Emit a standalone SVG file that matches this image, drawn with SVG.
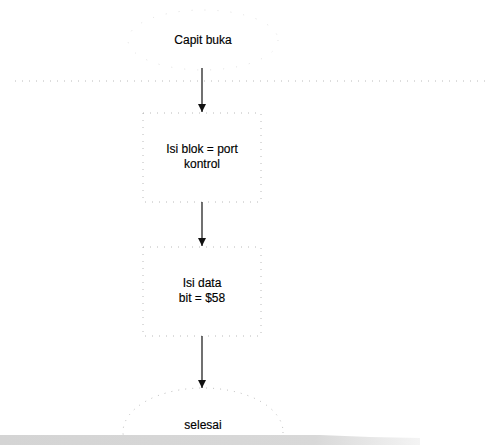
<svg xmlns="http://www.w3.org/2000/svg" width="502" height="445" viewBox="0 0 502 445">
<defs>
<style>
.shape{fill:none;stroke:#a8a8a8;stroke-width:0.8;stroke-dasharray:1 6}
.faint{fill:none;stroke:#d2d2d2;stroke-width:0.7;stroke-dasharray:1 12}
.conn{stroke:#111;stroke-width:1.2;fill:none;marker-end:url(#ah)}
text{font-family:"Liberation Sans",Arial,sans-serif;font-size:12px;fill:#000;stroke:#000;stroke-width:0.15;text-anchor:middle}
</style>
<marker id="ah" viewBox="0 0 10 10" refX="10" refY="5" markerWidth="8" markerHeight="8" markerUnits="userSpaceOnUse" orient="auto">
<path d="M0,0 L10,5 L0,10 z" fill="#111"/>
</marker>
<linearGradient id="band" x1="0" x2="1" y1="0" y2="0">
<stop offset="0" stop-color="#d4d4d4"/>
<stop offset="0.75" stop-color="#d8d8d8"/>
<stop offset="1" stop-color="#f4f4f4"/>
</linearGradient>
</defs>
<rect width="502" height="445" fill="#fff"/>
<line class="shape" x1="15" y1="81" x2="490" y2="81"/>
<g id="start">
<ellipse class="faint" cx="203" cy="40" rx="75" ry="30"/>
<text x="203" y="44">Capit buka</text>
</g>
<g id="step1">
<rect class="shape" x="143" y="113" width="118" height="89"/>
<text x="202" y="153">Isi blok = port</text>
<text x="202" y="168">kontrol</text>
</g>
<g id="step2">
<rect class="shape" x="143" y="247" width="118" height="89"/>
<text x="202" y="287">Isi data</text>
<text x="202" y="302">bit = $58</text>
</g>
<g id="end">
<ellipse class="shape" cx="203" cy="432" rx="80" ry="44"/>
<text x="203" y="429">selesai</text>
</g>
<g id="connectors">
<line class="conn" x1="202" y1="68" x2="202" y2="112"/>
<line class="conn" x1="202" y1="202" x2="202" y2="246"/>
<line class="conn" x1="202" y1="336" x2="202" y2="388"/>
</g>
<polygon points="0,435 320,435 370,437 420,438 420,445 0,445" fill="url(#band)"/>
</svg>
